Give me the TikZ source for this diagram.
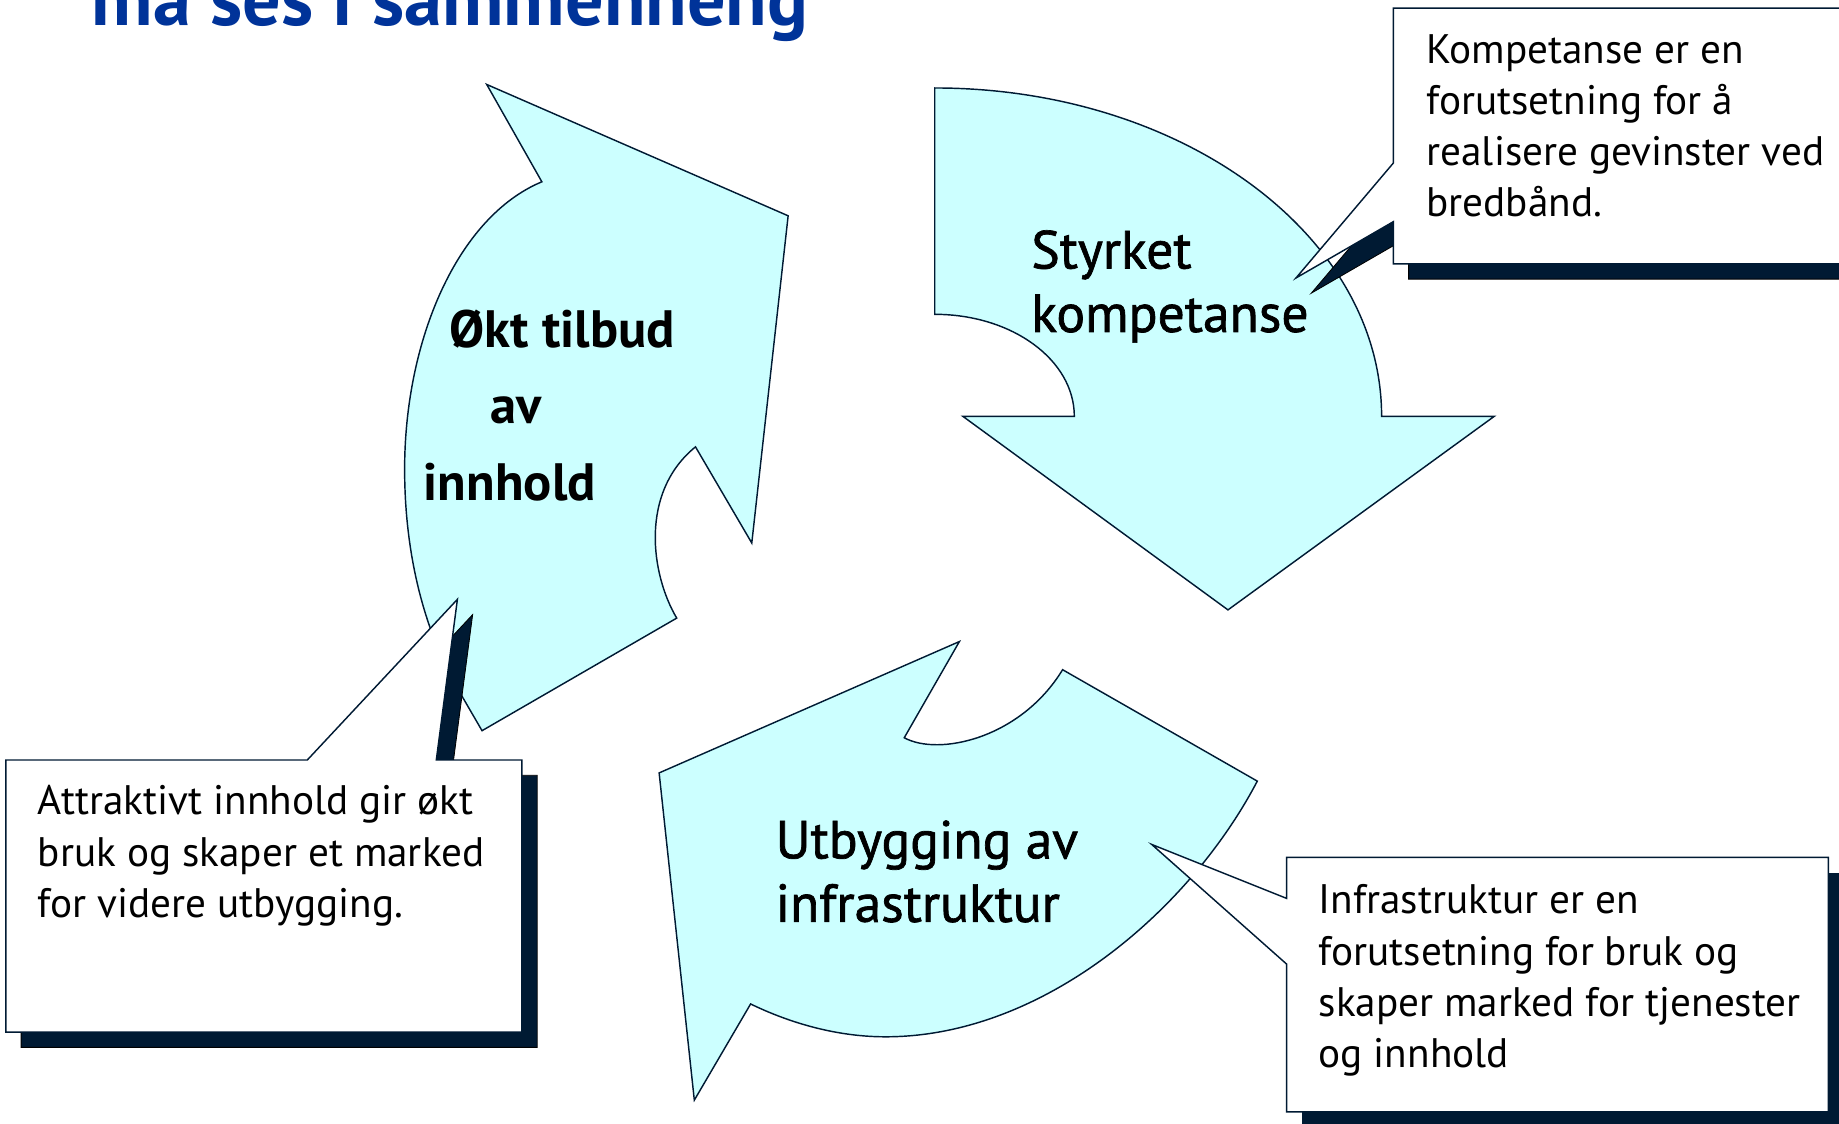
\documentclass[tikz,border=0pt]{standalone}
\usepackage{fontspec}
\setmainfont{PT Sans}
\newfontfamily\halvfet[FakeBold=1.3]{PT Sans}
\usetikzlibrary{positioning}
\definecolor{pilfyll}{RGB}{204,255,255}
\definecolor{mork}{RGB}{0,26,51}
\definecolor{titelblaa}{RGB}{0,51,153}
\tikzset{
x=0.02cm, y=-0.02cm, % one unit = one pixel of the sketch, y downwards
pil/.style={fill=pilfyll, draw=mork, line width=0.7pt, line join=miter}, % the three round arrows
boble/.style={fill=white, draw=mork, line width=0.7pt}, % callout boxes
skygge/.style={fill=mork}, % shadow behind a callout
stortekst/.style={font=\fontsize{26}{30.8}\selectfont\halvfet, anchor=base west, inner sep=0pt, align=left}, % base = last line
smatekst/.style={font=\fontsize{20}{24.8}\selectfont, anchor=base west, inner sep=0pt, align=left},
}
\begin{document}
\begin{tikzpicture}
    \useasboundingbox (0,0) rectangle (1568,958);
    \clip (0,0) rectangle (1568,958);
    \node[anchor=base west, inner sep=0pt, text=titelblaa, font=\fontsize{37}{37}\selectfont\bfseries] (tittel) at (78,22) {må ses i sammenheng};
    % Økt tilbud av innhold
    \draw[pil] (415,72) -- (462,155) .. controls (390,185) and (345,290) .. (345,400)
        .. controls (345,480) and (365,545) .. (393,592)
        -- (411,623) -- (577,527) .. controls (555,490) and (545,420) .. (593,381)
        -- (641,463) -- (672,184) -- cycle;
    % Styrket kompetanse
    \draw[pil] (797,75) .. controls (1007,75) and (1178,200) .. (1178,355)
        -- (1274,355) -- (1047,520) -- (821,355) -- (916,355)
        .. controls (916,307) and (863,268) .. (797,268) -- cycle;
    % Utbygging av infrastruktur
    \draw[pil] (818,547) -- (771,629) .. controls (800,645) and (870,630) .. (906,571)
        -- (1072,666) .. controls (1015,775) and (890,884) .. (755,884)
        .. controls (715,884) and (675,873) .. (640,856)
        -- (592,938) -- (562,659) -- cycle;
    \node[stortekst, font=\fontsize{25.5}{37.3}\selectfont\bfseries] (okt) at (361,427)
        {\hspace*{0.44cm}Økt tilbud\\\hspace*{1.14cm}av\\innhold};
    \node[stortekst] (styrket) at (879,283) {Styrket\\kompetanse};
    \node[stortekst] (utbygging) at (661,786) {Utbygging av\\infrastruktur};
    % callouts, shadow first
    \foreach \stil/\dx in {skygge/13, boble/0}
        \draw[\stil, shift={(\dx,\dx)}] (1188,7) -- (1600,7) -- (1600,225) -- (1188,225)
            -- (1188,189) -- (1105,237) -- (1188,139) -- cycle;
    \foreach \stil/\dx in {skygge/13, boble/0}
        \draw[\stil, shift={(\dx,\dx)}] (5,648) -- (262,648) -- (390,511) -- (372,648)
            -- (445,648) -- (445,880) -- (5,880) -- cycle;
    \fill[skygge] (1110,744) rectangle (1600,970);
    \draw[boble] (1097,731) -- (1559,731) -- (1559,948) -- (1097,948)
        -- (1097,822) -- (982,720) -- (1097,766) -- cycle;
    \node[smatekst] (kompetanse) at (1216,185) {Kompetanse er en\\forutsetning for å\\realisere gevinster ved\\bredbånd.};
    \node[smatekst] (attraktivt) at (32,782) {Attraktivt innhold gir økt\\bruk og skaper et marked\\for videre utbygging.};
    \node[smatekst] (infra) at (1124,910) {Infrastruktur er en\\forutsetning for bruk og\\skaper marked for tjenester\\og innhold};
\end{tikzpicture}
\end{document}
